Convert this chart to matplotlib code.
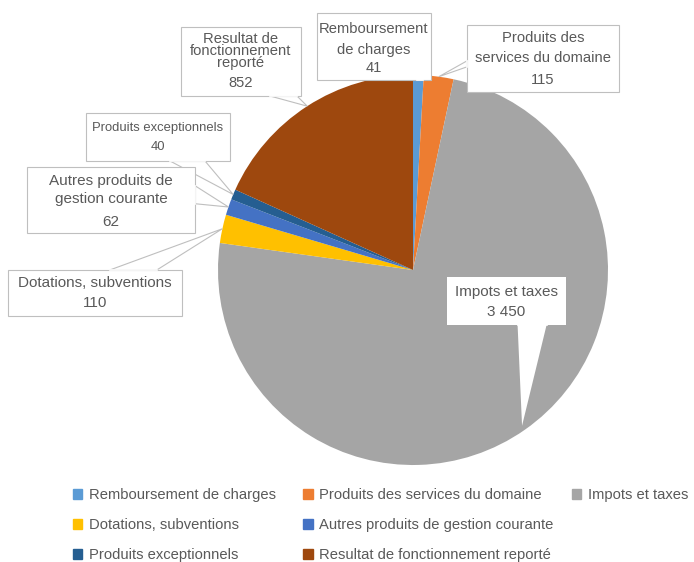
import matplotlib
matplotlib.use('Agg')
import matplotlib.pyplot as plt
from matplotlib.patches import Rectangle, Polygon
import numpy as np

categories = ['Remboursement de charges', 'Produits des services du domaine', 'Impots et taxes',
              'Dotations, subventions', 'Autres produits de gestion courante',
              'Produits exceptionnels', 'Resultat de fonctionnement reporté']
values = [41, 115, 3450, 110, 62, 40, 852]
box_names = ['Remboursement\nde charges', 'Produits des\nservices du domaine', 'Impots et taxes',
             'Dotations, subventions', 'Autres produits de\ngestion courante',
             'Produits exceptionnels', 'Resultat de\nfonctionnement\nreporté']
colors = ['#5B9BD5', '#ED7D31', '#A5A5A5', '#FFC000', '#4472C4', '#255E91', '#9E480E']

# label boxes in pixels (x0, y0, x1, y1), y grows downward
boxes = [(317, 13, 431, 80), (467, 25, 619, 92), (447, 277, 566, 325), (8, 270, 182, 316),
         (27, 167, 195, 233), (86, 113, 230, 161), (181, 27, 301, 96)]
name_y = [39.5, 48, 292, 283, 190, 128, 51]
value_y = [68, 80, 312, 303, 222, 147, 83]
name_ls = [1.65, 1.6, 1, 1, 1.45, 1, 0.8]
box_fs = [10.6, 10.6, 11, 11, 11, 9.4, 10.6]
# callout pointer: box side, position along that side, half width of its base (px)
ptr_base = [('bottom', 0.9, 3), ('left', 0.58, 3), ('bottom', 0.715, 14.5), ('top', 0.72, 23.5),
            ('right', 0.42, 9), ('bottom', 0.705, 17.5), ('bottom', 0.854, 13.5)]

# legend columns: category indices per column and x of the column (figure fraction)
leg_cols = [[0, 3, 5], [1, 4, 6], [2]]
leg_x = [0.105, 0.437, 0.824]


def base_points(box, side, f, half):
    x0, y0, x1, y1 = box
    if side in ('bottom', 'top'):
        bx = x0 + f * (x1 - x0)
        by = y1 if side == 'bottom' else y0
        return [(bx - half, by), (bx + half, by)]
    by = y0 + f * (y1 - y0)
    bx = x0 if side == 'left' else x1
    return [(bx, by - half), (bx, by + half)]


plt.rcParams['font.family'] = ['Liberation Sans', 'DejaVu Sans']
fig = plt.figure(figsize=(6.94, 5.62), dpi=100)
ax = fig.add_axes([0, 0, 1, 1])

cx, cy, r = 413, 270, 195
wedges, _ = ax.pie(values, colors=colors, startangle=-90, counterclock=True,
                   center=(cx, cy), radius=r, wedgeprops=dict(linewidth=0))
ax.set_xlim(0, 694)
ax.set_ylim(562, 0)
ax.set_aspect('auto')
ax.axis('off')

txt_color = '#595959'
for i, w in enumerate(wedges):
    mid = np.deg2rad((w.theta1 + w.theta2) / 2)
    frac = 0.975 if i == 2 else 1.0
    tip = (cx + frac * r * np.cos(mid), cy + frac * r * np.sin(mid))
    edge = 'none' if i == 2 else '#BFBFBF'
    side, f, half = ptr_base[i]
    pts = base_points(boxes[i], side, f, half)
    ax.add_patch(Polygon([pts[0], tip, pts[1]], closed=True, fc='white', ec=edge,
                         lw=0.8, zorder=3))
    x0, y0, x1, y1 = boxes[i]
    ax.add_patch(Rectangle((x0, y0), x1 - x0, y1 - y0, fc='white', ec=edge, lw=0.8, zorder=4))
    # cover the base of the pointer so the callout looks open
    ax.plot([p[0] for p in pts], [p[1] for p in pts], color='white', lw=1.2, zorder=4.5)
    xc = (x0 + x1) / 2
    ax.text(xc, name_y[i], box_names[i], ha='center', va='center', fontsize=box_fs[i],
            color=txt_color, linespacing=name_ls[i], zorder=5)
    ax.text(xc, value_y[i], format(values[i], ',').replace(',', ' '), ha='center', va='center',
            fontsize=box_fs[i], color=txt_color, zorder=5)

for col, x in zip(leg_cols, leg_x):
    hs = [Rectangle((0, 0), 1, 1, color=colors[k]) for k in col]
    leg = fig.legend(hs, [categories[k] for k in col], loc='upper left',
                     bbox_to_anchor=(x, 0.132), frameon=False, fontsize=10.6,
                     handlelength=0.65, handleheight=0.65, handletextpad=0.45,
                     labelspacing=1.1, borderaxespad=0, borderpad=0)
    for t in leg.get_texts():
        t.set_color(txt_color)

fig.savefig('out.png', dpi=100)
